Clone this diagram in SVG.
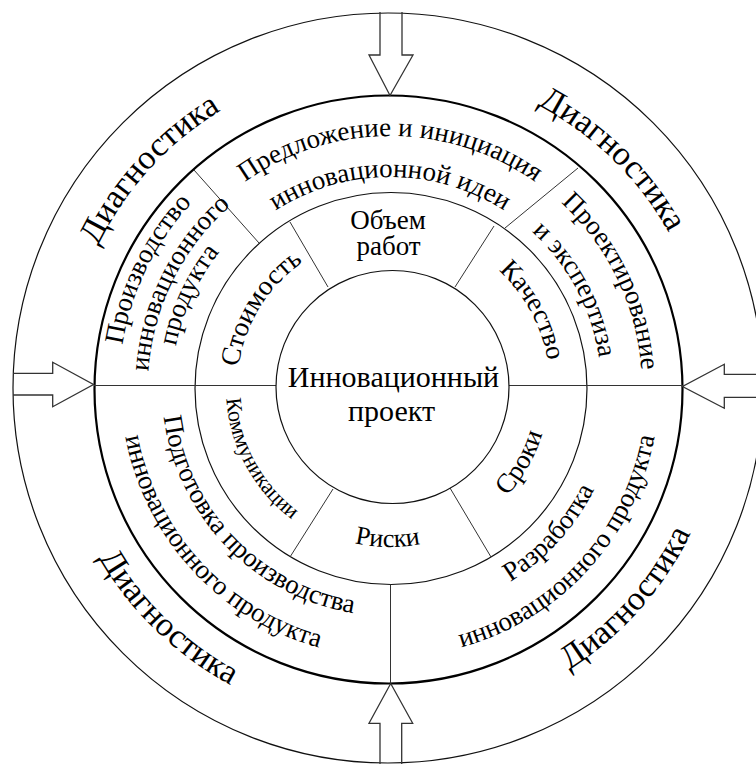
<svg xmlns="http://www.w3.org/2000/svg" width="756" height="764" viewBox="0 0 756 764">
<style>
.ring{fill:none;stroke:#111;stroke-width:1.2}
.thick{fill:none;stroke:#000;stroke-width:2.2}
.div{fill:none;stroke:#333;stroke-width:1}
.arrow{fill:none;stroke:#333;stroke-width:1.3;stroke-linejoin:miter}
text{font-family:"Liberation Serif","Times New Roman",serif;fill:#000}
.diag{font-size:34px}
.mid{font-size:27px}
.inn{font-size:27px}
.ctr{font-size:30px}
</style>
<defs>
<path id="cw325" d="M390,713 A325,325 0 1,1 390,63 A325,325 0 1,1 390,713"/>
<path id="cw319" d="M390,707 A319,319 0 1,1 390,69 A319,319 0 1,1 390,707"/>
<path id="cw252" d="M390,640 A252,252 0 1,1 390,136 A252,252 0 1,1 390,640"/>
<path id="cw211" d="M390,599 A211,211 0 1,1 390,177 A211,211 0 1,1 390,599"/>
<path id="cw271" d="M390,659 A271,271 0 1,1 390,117 A271,271 0 1,1 390,659"/>
<path id="cw242" d="M390,630 A242,242 0 1,1 390,146 A242,242 0 1,1 390,630"/>
<path id="cw218" d="M390,606 A218,218 0 1,1 390,170 A218,218 0 1,1 390,606"/>
<path id="cw160" d="M390,548 A160,160 0 1,1 390,228 A160,160 0 1,1 390,548"/>
<path id="cw153" d="M390,541 A153,153 0 1,1 390,235 A153,153 0 1,1 390,541"/>
<path id="ccw337" d="M390,51 A337,337 0 1,0 390,725 A337,337 0 1,0 390,51"/>
<path id="ccw334" d="M390,54 A334,334 0 1,0 390,722 A334,334 0 1,0 390,54"/>
<path id="ccw228" d="M390,160 A228,228 0 1,0 390,616 A228,228 0 1,0 390,160"/>
<path id="ccw269" d="M390,119 A269,269 0 1,0 390,657 A269,269 0 1,0 390,119"/>
<path id="ccw159" d="M390,229 A159,159 0 1,0 390,547 A159,159 0 1,0 390,229"/>
<path id="ccw164" d="M390,224 A164,164 0 1,0 390,552 A164,164 0 1,0 390,224"/>
</defs>

<g id="rings">
<circle id="outer-ring" class="ring" cx="388" cy="388" r="375"/>
<circle id="stage-ring" class="thick" cx="388.5" cy="389.5" r="294"/>
<circle id="factor-ring" class="ring" cx="391" cy="388.5" r="196"/>
</g>

<g id="connectors">
<path class="div" d="M94,385.5 H276"/>
<path class="div" d="M509,385.5 H683"/>
<path class="div" d="M390.5,584.5 V683"/>
<path class="div" d="M194,170 L259,243"/>
<path class="div" d="M578,168 L505,228"/>
<path class="div" d="M290,222 L328,287"/>
<path class="div" d="M494,226 L455,287"/>
<path class="div" d="M333,489 L290,557"/>
<path class="div" d="M450,488 L491,557"/>
<path id="arrow-top" class="arrow" d="M380,12 V55 H369 L390,95.5 L413,55 H402 V12"/>
<path id="arrow-bottom" class="arrow" d="M380,764 V723.3 H369 L390.7,683.5 L412.7,723.3 H401.7 V764"/>
<path id="arrow-left" class="arrow" d="M13,373.3 H52.7 V362.3 L93.5,384.5 L52.7,406.7 V395 H13"/>
<path id="arrow-right" class="arrow" d="M756,374.3 H724.3 V364.3 L682.5,386.5 L724.3,408.3 V397.3 H756"/>
</g>

<g id="node-center">
<circle class="ring" cx="392.5" cy="387" r="116.5" fill="#fff"/>
<text class="ctr" x="393.5" y="387" text-anchor="middle">Инновационный</text>
<text class="ctr" x="391.5" y="421" text-anchor="middle">проект</text>
</g>

<g id="node-diag-ul"><text class="diag" text-anchor="middle"><textPath href="#cw325" startOffset="36.75%">Диагностика</textPath></text></g>
<g id="node-diag-ur"><text class="diag" text-anchor="middle"><textPath href="#cw319" startOffset="62.28%">Диагностика</textPath></text></g>
<g id="node-diag-ll"><text class="diag" text-anchor="middle"><textPath href="#ccw337" startOffset="37.78%">Диагностика</textPath></text></g>
<g id="node-diag-lr"><text class="diag" text-anchor="middle"><textPath href="#ccw334" startOffset="63.42%">Диагностика</textPath></text></g>

<g id="node-proposal">
<text class="mid" text-anchor="middle"><textPath href="#cw252" startOffset="50%">Предложение и инициация</textPath></text>
<text class="mid" text-anchor="middle"><textPath href="#cw211" startOffset="50%">инновационной идеи</textPath></text>
</g>
<g id="node-design">
<text class="mid" text-anchor="middle"><textPath href="#cw252" startOffset="67.86%">Проектирование</textPath></text>
<text class="mid" text-anchor="middle"><textPath href="#cw211" startOffset="67.22%">и экспертиза</textPath></text>
</g>
<g id="node-development">
<text class="mid" text-anchor="middle"><textPath href="#ccw228" startOffset="63.25%">Разработка</textPath></text>
<text class="mid" text-anchor="middle"><textPath href="#ccw269" startOffset="63.19%">инновационного продукта</textPath></text>
</g>
<g id="node-preparation">
<text class="mid" text-anchor="middle"><textPath href="#ccw228" startOffset="37.22%">Подготовка производства</textPath></text>
<text class="mid" text-anchor="middle"><textPath href="#ccw269" startOffset="36.83%">инновационного продукта</textPath></text>
</g>
<g id="node-production">
<text class="mid" text-anchor="middle"><textPath href="#cw271" startOffset="32.25%">Производство</textPath></text>
<text class="mid" text-anchor="middle"><textPath href="#cw242" startOffset="32.33%">инновационного</textPath></text>
<text class="mid" text-anchor="middle"><textPath href="#cw218" startOffset="31.89%">продукта</textPath></text>
</g>

<g id="node-scope">
<text class="mid" x="388" y="229" text-anchor="middle">Объем</text>
<text class="mid" x="388.5" y="255" text-anchor="middle">работ</text>
</g>
<g id="node-quality"><text class="inn" text-anchor="middle"><textPath href="#cw160" startOffset="67.06%">Качество</textPath></text></g>
<g id="node-time"><text class="inn" text-anchor="middle"><textPath href="#ccw159" startOffset="66.75%">Сроки</textPath></text></g>
<g id="node-risks"><text style="font-size:26px" text-anchor="middle"><textPath href="#ccw159" startOffset="49.75%">Риски</textPath></text></g>
<g id="node-communications"><text style="font-size:22px" text-anchor="middle"><textPath href="#ccw164" startOffset="32.92%">Коммуникации</textPath></text></g>
<g id="node-cost"><text style="font-size:27.5px" text-anchor="middle"><textPath href="#cw153" startOffset="33.78%">Стоимость</textPath></text></g>
</svg>
